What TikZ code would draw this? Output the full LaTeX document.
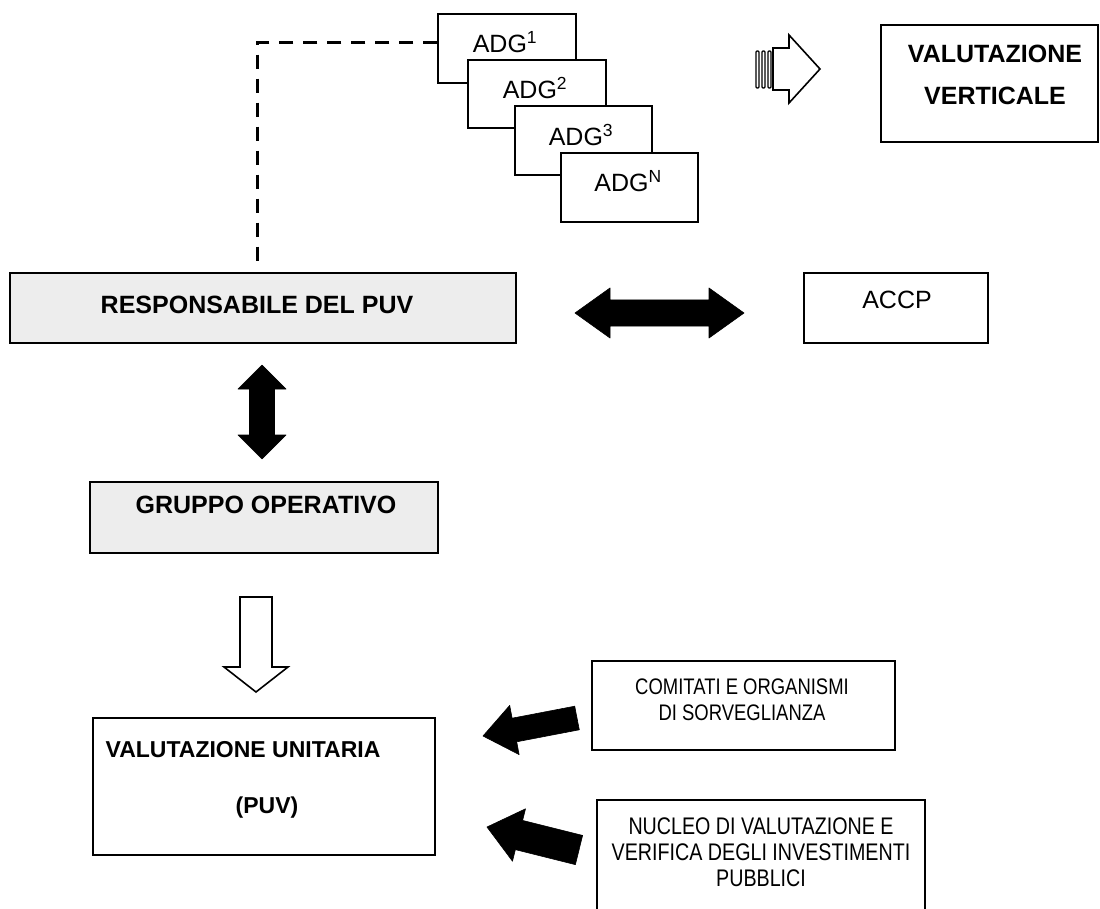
\documentclass[tikz,border=0pt]{standalone}
\usepackage{fontspec}
\setmainfont{Liberation Sans}
\newfontfamily\narrowsans{Liberation Sans}[FakeStretch=0.82]

\tikzset{
  box/.style={draw, line width=1.6pt, fill=white, inner sep=0pt},
  greybox/.style={box, fill=black!7},
  boldlabel/.style={font=\fontsize{25}{42}\selectfont\bfseries, align=center},
  plainlabel/.style={font=\fontsize{25}{30}\selectfont},
  narrowlabel/.style={font=\fontsize{24}{26}\narrowsans, align=center},
  blockarrow/.style={fill=black, draw=black, line width=0.6pt, line join=round},
  hollowarrow/.style={draw=black, fill=white, line width=1.6pt},
  linkline/.style={line width=3pt, dash pattern=on 14pt off 10pt},
}

\begin{document}
\begin{tikzpicture}[x=1pt,y=-1pt]
    \useasboundingbox (0,0) rectangle (1100,909);
    \clip (0,0) rectangle (1100,909);

    % stack of ADG boxes
    \node[box, line width=1.3pt, minimum width=138pt, minimum height=69pt] (adg1) at (507,48.5) {};
    \node[box, line width=1.3pt, minimum width=138pt, minimum height=68pt] (adg2) at (537,94) {};
    \node[box, line width=1.3pt, minimum width=137pt, minimum height=69pt] (adg3) at (583.5,140.5) {};
    \node[box, line width=1.3pt, minimum width=137pt, minimum height=69pt] (adgn) at (629.5,187.5) {};
    \node[plainlabel] (adg1txt) at (505,42) {ADG\textsuperscript{1}};
    \node[plainlabel] (adg2txt) at (535,88) {ADG\textsuperscript{2}};
    \node[plainlabel] (adg3txt) at (581,135) {ADG\textsuperscript{3}};
    \node[plainlabel] (adgntxt) at (628,181) {ADG\textsuperscript{N}};

    \node[box, minimum width=217pt, minimum height=117pt] (vert) at (989.5,83.5) {};
    \node[boldlabel] (verttxt) at (995,75) {VALUTAZIONE\\VERTICALE};

    % hollow arrow towards the vertical evaluation
    \foreach \sx in {756,762,768}
        \draw[line width=1.1pt, rounded corners=1pt] (\sx,51) rectangle ++(3,37);
    \draw[hollowarrow] (773,48) -- (789,48) -- (789,35) -- (820,69) -- (789,103) -- (789,90) -- (773,90) -- cycle;

    \node[greybox, minimum width=506pt, minimum height=70pt] (resp) at (263,308) {};
    \node[boldlabel] (resptxt) at (257,305) {RESPONSABILE DEL PUV};

    \node[box, minimum width=184pt, minimum height=70pt] (accp) at (896,308) {};
    \node[plainlabel] (accptxt) at (897,300) {ACCP};

    % dashed link from ADG to the PUV manager
    \coordinate (bend) at (257,43);
    \draw[linkline] (adg1.west |- bend) -- (bend) -- ([yshift=6pt]bend |- resp.north);

    % black double arrows
    \fill[blockarrow] (575,313) -- (610,288) -- (610,300) -- (709,300) -- (709,288) -- (744,313)
        -- (709,338) -- (709,326) -- (610,326) -- (610,338) -- cycle;
    \fill[blockarrow] (262,365) -- (286,389) -- (274.5,389) -- (274.5,435) -- (286,435) -- (262,459)
        -- (238,435) -- (249.5,435) -- (249.5,389) -- (238,389) -- cycle;

    \node[greybox, minimum width=348pt, minimum height=71pt] (gruppo) at (264,517.5) {};
    \node[boldlabel] (gruppotxt) at (266,505) {GRUPPO OPERATIVO};

    \draw[hollowarrow] (240,597) -- (272,597) -- (272,667) -- (288,667) -- (256,692) -- (224,667) -- (240,667) -- cycle;

    \node[box, minimum width=342pt, minimum height=137pt] (unit) at (264,786.5) {};
    \node[boldlabel, font=\fontsize{23}{28}\selectfont\bfseries] (unittxt) at (243,750) {VALUTAZIONE UNITARIA};
    \node[boldlabel, font=\fontsize{23}{28}\selectfont\bfseries] (puvtxt) at (267,808) {(PUV)};

    \node[box, minimum width=303pt, minimum height=89pt] (comit) at (743.5,705.5) {};
    \node[narrowlabel, font=\fontsize{22.5}{26}\narrowsans] (comittxt) at (742,700) {COMITATI E ORGANISMI\\DI SORVEGLIANZA};

    \node[box, minimum width=328pt, minimum height=116pt] (nucleo) at (761,858) {};
    \node[narrowlabel] (nucleotxt) at (761,852) {NUCLEO DI VALUTAZIONE E\\VERIFICA DEGLI INVESTIMENTI\\PUBBLICI};

    % slanted arrows into the unitary evaluation
    \fill[blockarrow] (574.7,706.2) -- (512.1,718.2) -- (509.7,705.4) -- (483,736) -- (519.1,754.6)
        -- (516.7,741.8) -- (579.3,729.8) -- cycle;
    \fill[blockarrow] (582.6,835.4) -- (522.6,820.4) -- (525.5,808.8) -- (487,827) -- (512.5,861.2)
        -- (515.4,849.6) -- (575.4,864.6) -- cycle;
\end{tikzpicture}
\end{document}
